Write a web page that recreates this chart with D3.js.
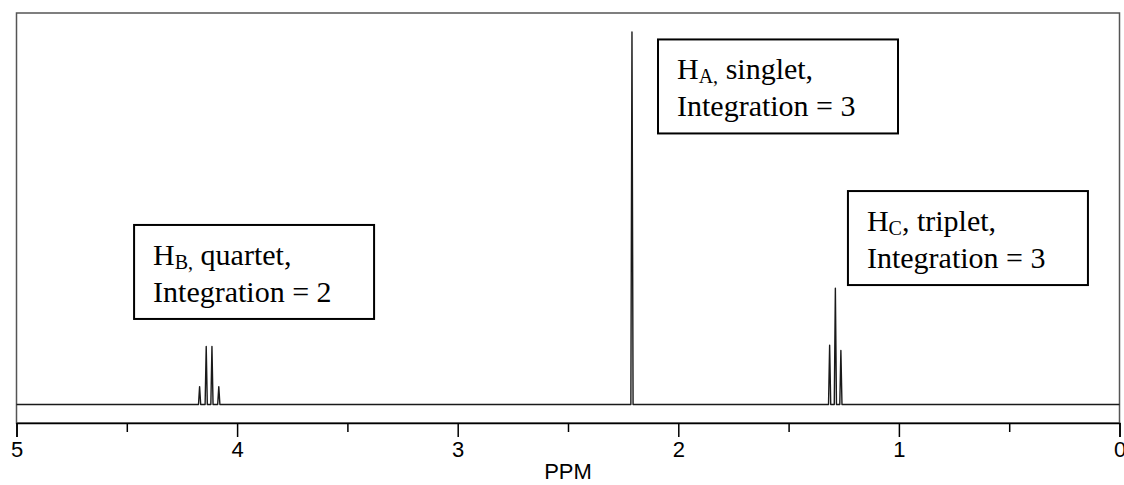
<!DOCTYPE html>
<html>
<head>
<meta http-equiv="Content-Type" content="text/html; charset=UTF-8">
<style>
body { margin: 0; background: #fff; }
.spectrum { fill: none; stroke: #1a1a1a; stroke-width: 1.4px; stroke-linejoin: round; }
.frame { fill: none; stroke: #555; stroke-width: 1.5px; }
.axis path { stroke: #000; stroke-width: 1.5px; }
.axis line { stroke: #000; stroke-width: 1.5px; }
.axis text { font-family: "Liberation Sans", Arial, sans-serif; font-size: 22px; fill: #000; }
.box rect { fill: #fff; stroke: #000; stroke-width: 2px; }
.box text { font-family: "Liberation Serif", "Times New Roman", serif; font-size: 30px; fill: #000; white-space: pre; }
</style>
</head>
<body>
<svg width="1124" height="485"></svg>
<script src="https://cdn.jsdelivr.net/npm/d3@7/dist/d3.min.js"></script>
<script>

// peak positions (ppm) and relative heights
var singletPpm = [2.21];
var singletHeight = [1.0];
var quartetPpm = [4.170, 4.140, 4.114, 4.083];
var quartetHeight = [0.048, 0.156, 0.156, 0.048];
var tripletPpm = [1.314, 1.288, 1.263];
var tripletHeight = [0.159, 0.312, 0.145];

var tickValues = [5, 4.5, 4, 3.5, 3, 2.5, 2, 1.5, 1, 0.5, 0];
var tickLabels = ["5", "", "4", "", "3", "", "2", "", "1", "", "0"];

var labels = [
  { sym: "H", sub: "B,", rest: " quartet,", line2: "Integration = 2", ppm: 4.467, top: 0.482 },
  { sym: "H", sub: "A,", rest: " singlet,", line2: "Integration = 3", ppm: 2.092, top: 0.98 },
  { sym: "H", sub: "C", rest: ", triplet,", line2: "Integration = 3", ppm: 1.231, top: 0.573 }
];

var svg = d3.select("svg"),
    plotLeft = 16.5, plotRight = 1119.5, plotTop = 13, axisY = 423;

var x = d3.scaleLinear().domain([5, 0]).range([plotLeft, plotRight]);
var y = d3.scaleLinear().domain([0, 1]).range([404.5, 32]);

// collect all lines, then build a trace with narrow spikes
var peaks = [];
singletPpm.forEach(function(p, i) { peaks.push({ ppm: p, h: singletHeight[i] }); });
quartetPpm.forEach(function(p, i) { peaks.push({ ppm: p, h: quartetHeight[i] }); });
tripletPpm.forEach(function(p, i) { peaks.push({ ppm: p, h: tripletHeight[i] }); });
peaks.sort(function(a, b) { return b.ppm - a.ppm; });

var foot = 0.005;
var trace = [[5, 0]];
peaks.forEach(function(d) {
  trace.push([d.ppm + foot, 0]);
  trace.push([d.ppm, d.h]);
  trace.push([d.ppm - foot, 0]);
});
trace.push([0, 0]);

var line = d3.line()
    .x(function(d) { return x(d[0]); })
    .y(function(d) { return y(d[1]); });

svg.append("rect")
    .attr("class", "frame")
    .attr("x", plotLeft)
    .attr("y", plotTop)
    .attr("width", plotRight - plotLeft)
    .attr("height", axisY - plotTop);

svg.append("path")
    .datum(trace)
    .attr("class", "spectrum")
    .attr("d", line);

var axis = svg.append("g")
    .attr("class", "axis")
    .attr("transform", "translate(0," + axisY + ")")
    .call(d3.axisBottom(x)
      .tickValues(tickValues)
      .tickSizeOuter(0)
      .tickSize(14)
      .tickPadding(4)
      .tickFormat(function(d, i) { return tickLabels[i]; }));

axis.selectAll(".tick line")
    .attr("y2", function(d) { return d % 1 === 0 ? 14 : 9; });

axis.append("text")
    .attr("x", x(2.5))
    .attr("y", 56)
    .attr("text-anchor", "middle")
    .text("PPM");

// annotation boxes
var box = svg.selectAll(".box")
    .data(labels)
  .enter().append("g")
    .attr("class", "box")
    .attr("transform", function(d) { return "translate(" + x(d.ppm) + "," + y(d.top) + ")"; });

box.append("rect")
    .attr("width", 240)
    .attr("height", 94);

var t1 = box.append("text")
    .attr("x", 19)
    .attr("y", 40);
t1.append("tspan").text(function(d) { return d.sym; });
t1.append("tspan")
    .attr("dy", 4)
    .style("font-size", "20px")
    .text(function(d) { return d.sub; });
t1.append("tspan")
    .attr("dy", -4)
    .text(function(d) { return d.rest; });

box.append("text")
    .attr("x", 19)
    .attr("y", 77)
    .text(function(d) { return d.line2; });

</script>
</body></html>
